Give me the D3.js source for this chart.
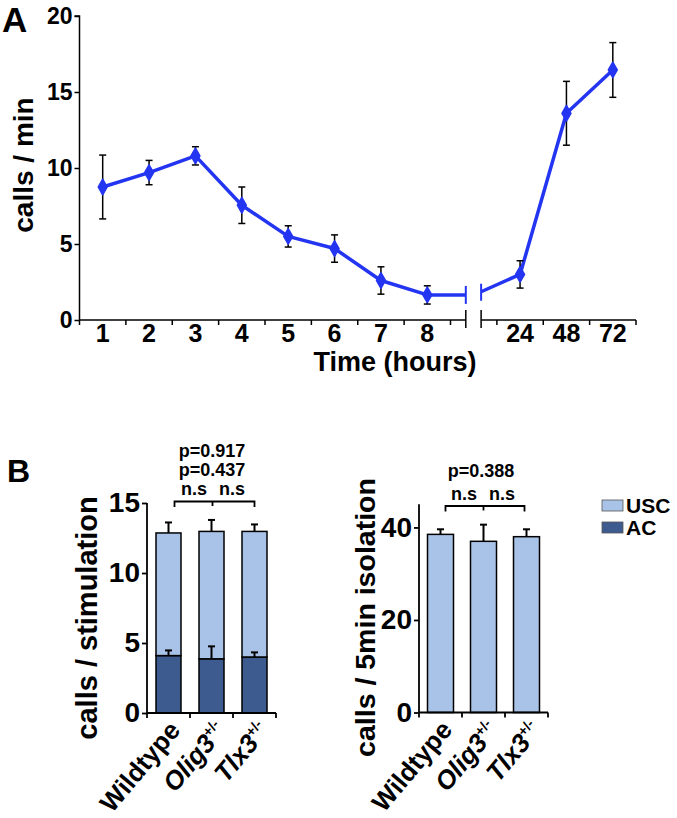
<!DOCTYPE html>
<html>
<head>
<meta charset="utf-8">
<script src="https://cdn.jsdelivr.net/npm/d3@7/dist/d3.min.js"></script>
<style>
  html, body { margin: 0; padding: 0; background: #fff; }
  svg text { font-family: Arial, "Liberation Sans", Helvetica, sans-serif; font-weight: bold; fill: #000; }
</style>
</head>
<body>
<svg id="chart" width="677" height="818"></svg>
<script>
// ---------------- Data: panel A ----------------
const timeLabels = ["1", "2", "3", "4", "5", "6", "7", "8", "24", "48", "72"];
const callsPerMin = [8.75, 9.7, 10.8, 7.55, 5.5, 4.7, 2.6, 1.65, 3.0, 13.6, 16.45];
const callsPerMinErr = [2.1, 0.8, 0.6, 1.2, 0.7, 0.9, 0.9, 0.6, 0.9, 2.1, 1.8];
const breakStartValue = 1.65;   // line value at left side of the axis break
const breakEndValue = 1.86;     // line value at right side of the axis break
const yTicksA = [0, 5, 10, 15, 20];

// ---------------- Data: panel B ----------------
const genotypes = ["Wildtype", "Olig3", "Tlx3"];
const genotypeSup = ["", "+/-", "+/-"];
const acValues = [4.1, 3.87, 4.0];
const acErr = [0.37, 0.89, 0.33];
const uscValues = [8.76, 9.1, 8.97];
const totalErr = [0.75, 0.82, 0.5];
const isolationValues = [38.5, 37.0, 38.0];
const isolationErr = [1.1, 3.6, 1.6];
const yTicksB1 = [0, 5, 10, 15];
const yTicksB2 = [0, 20, 40];
const pTextsB1 = ["p=0.917", "p=0.437"];
const pTextsB2 = ["p=0.388"];
const legendLabels = ["USC", "AC"];

const colLine = "#2435f2";
const colLight = "#a9c3e8";
const colDark = "#3d5b8f";

const svg = d3.select("#chart");

// =============== PANEL A =================
// slot index: 1..8 for hours, gap at 9, then 10..12
const slot = i => (i < 8 ? i + 1 : i + 2);
const xA = d3.scaleLinear().domain([0.5, 12.5]).range([79.5, 636]);
const yA = d3.scaleLinear().domain([0, 20]).range([320, 16]);
const gA = svg.append("g");

svg.append("text").attr("x", 2).attr("y", 32).attr("font-size", 35).text("A");

// y axis
const yAxisA = d3.axisLeft(yA).tickValues(yTicksA).tickSize(5).tickPadding(2).tickFormat(d3.format("d"));
const gyA = gA.append("g").attr("transform", `translate(${xA(0.5)},0)`).call(yAxisA);
gyA.selectAll("text").attr("font-size", 23).style("font-weight", "bold").attr("fill", "#000");
gyA.selectAll("line, path").attr("stroke", "#000").attr("stroke-width", 1.5);
gyA.select(".domain").attr("d", `M-5,${yA(20)}H0V${yA(0)}`);

// x axis (broken)
const breakL = 8.83, breakR = 9.16;
const axisY = yA(0);
gA.append("line").attr("x1", xA(0.5)).attr("x2", xA(breakL)).attr("y1", axisY).attr("y2", axisY)
  .attr("stroke", "#000").attr("stroke-width", 1.5);
gA.append("line").attr("x1", xA(breakR)).attr("x2", xA(12.5)).attr("y1", axisY).attr("y2", axisY)
  .attr("stroke", "#000").attr("stroke-width", 1.5);
const minorTicks = [0.5, 1.5, 2.5, 3.5, 4.5, 5.5, 6.5, 7.5, 8.5, 9.5, 10.5, 11.5, 12.5];
gA.selectAll(".mt").data(minorTicks).enter().append("line")
  .attr("x1", d => xA(d)).attr("x2", d => xA(d)).attr("y1", axisY).attr("y2", axisY + 5)
  .attr("stroke", "#000").attr("stroke-width", 1.5);
[breakL, breakR].forEach(b => {
  gA.append("line").attr("x1", xA(b)).attr("x2", xA(b)).attr("y1", axisY - 10).attr("y2", axisY + 8)
    .attr("stroke", "#000").attr("stroke-width", 1.5);
});
gA.selectAll(".xl").data(timeLabels).enter().append("text")
  .attr("x", (d, i) => xA(slot(i))).attr("y", 342).attr("text-anchor", "middle")
  .attr("font-size", 25).text(d => d);

// axis titles
svg.append("text").attr("transform", "translate(33,165) rotate(-90)").attr("text-anchor", "middle")
  .attr("font-size", 28).text("calls / min");
svg.append("text").attr("x", 395).attr("y", 371).attr("text-anchor", "middle")
  .attr("font-size", 27).text("Time (hours)");

// line segments
const lineGen = d3.line().x(d => xA(d[0])).y(d => yA(d[1]));
const leftPts = callsPerMin.slice(0, 8).map((v, i) => [slot(i), v]).concat([[breakL, breakStartValue]]);
const rightPts = [[breakR, breakEndValue]].concat(callsPerMin.slice(8).map((v, i) => [slot(i + 8), v]));
[leftPts, rightPts].forEach(p => {
  gA.append("path").attr("d", lineGen(p)).attr("fill", "none").attr("stroke", colLine)
    .attr("stroke-width", 3.5).attr("stroke-linejoin", "round");
});
// blue break ticks
gA.append("line").attr("x1", xA(breakL)).attr("x2", xA(breakL))
  .attr("y1", yA(breakStartValue) - 9).attr("y2", yA(breakStartValue) + 9)
  .attr("stroke", colLine).attr("stroke-width", 2);
gA.append("line").attr("x1", xA(breakR)).attr("x2", xA(breakR))
  .attr("y1", yA(breakEndValue) - 8).attr("y2", yA(breakEndValue) + 9)
  .attr("stroke", colLine).attr("stroke-width", 2);

// error bars
const eb = gA.selectAll(".eb").data(callsPerMin).enter().append("g");
eb.append("line").attr("x1", (d, i) => xA(slot(i))).attr("x2", (d, i) => xA(slot(i)))
  .attr("y1", (d, i) => yA(d + callsPerMinErr[i])).attr("y2", (d, i) => yA(d - callsPerMinErr[i]))
  .attr("stroke", "#000").attr("stroke-width", 1.5);
[1, -1].forEach(s => {
  eb.append("line").attr("x1", (d, i) => xA(slot(i)) - 3.5).attr("x2", (d, i) => xA(slot(i)) + 3.5)
    .attr("y1", (d, i) => yA(d + s * callsPerMinErr[i])).attr("y2", (d, i) => yA(d + s * callsPerMinErr[i]))
    .attr("stroke", "#000").attr("stroke-width", 1.5);
});
// markers
gA.selectAll(".pt").data(callsPerMin).enter().append("path")
  .attr("transform", (d, i) => `translate(${xA(slot(i))},${yA(d)})`)
  .attr("d", d3.symbol().type(d3.symbolDiamond).size(70))
  .attr("fill", colLine).attr("stroke", colLine).attr("stroke-width", 1.5).attr("stroke-linejoin", "round");

// =============== PANEL B =================
svg.append("text").attr("x", 7).attr("y", 482).attr("font-size", 32).text("B");

function bracket(g, x1, x2, xc, y, drop) {
  g.append("path").attr("d", `M${x1},${y + drop}V${y}H${x2}V${y + drop}M${xc},${y}V${y + drop - 1}`)
    .attr("fill", "none").attr("stroke", "#000").attr("stroke-width", 1.8);
}

function catLabels(g, x, yBase) {
  const t = g.selectAll(".cl").data(genotypes).enter().append("text")
    .attr("transform", (d, i) => `translate(${x(d) + x.bandwidth() / 2 + (i === 0 ? 13 : 16)},${yBase + 18}) rotate(-50)`)
    .attr("text-anchor", "end").attr("font-size", 26);
  t.append("tspan").text(d => d).style("font-style", (d, i) => i > 0 ? "italic" : "normal");
  t.append("tspan").attr("font-size", 14).attr("dy", (d, i) => genotypeSup[i] ? -10 : 0)
    .text((d, i) => genotypeSup[i]);
}

function styleAxis(gax, fs) {
  gax.selectAll("text").attr("font-size", fs).attr("fill", "#000");
  gax.selectAll("line, path").attr("stroke", "#000").attr("stroke-width", 1.8);
}

// ----- B left: stacked -----
const xB1 = d3.scaleBand().domain(genotypes).range([147, 276]).paddingInner(0).paddingOuter(0);
const yB1 = d3.scaleLinear().domain([0, 15]).range([713, 503]);
const gB1 = svg.append("g");
const bw1 = 25;
const off1 = (xB1.bandwidth() - bw1) / 2;

const stackData = genotypes.map((g, i) => ({ g, AC: acValues[i], USC: uscValues[i] }));
const stacked = d3.stack().keys(["AC", "USC"])(stackData);
const fills = { AC: colDark, USC: colLight };
stacked.forEach(layer => {
  gB1.selectAll(".b" + layer.key).data(layer).enter().append("rect")
    .attr("x", d => xB1(d.data.g) + off1).attr("width", bw1)
    .attr("y", d => yB1(d[1])).attr("height", d => yB1(d[0]) - yB1(d[1]))
    .attr("fill", fills[layer.key]).attr("stroke", "#000").attr("stroke-width", 1.5);
});
// error bars (upward)
function upErr(g, x, y, bw, tops, errs) {
  tops.forEach((v, i) => {
    const cx = x(genotypes[i]) + x.bandwidth() / 2;
    g.append("line").attr("x1", cx).attr("x2", cx).attr("y1", y(v)).attr("y2", y(v + errs[i]))
      .attr("stroke", "#000").attr("stroke-width", 2);
    g.append("line").attr("x1", cx - 3.5).attr("x2", cx + 3.5).attr("y1", y(v + errs[i])).attr("y2", y(v + errs[i]))
      .attr("stroke", "#000").attr("stroke-width", 2);
  });
}
upErr(gB1, xB1, yB1, bw1, acValues, acErr);
upErr(gB1, xB1, yB1, bw1, acValues.map((a, i) => a + uscValues[i]), totalErr);

const gy1 = gB1.append("g").attr("transform", "translate(147,0)")
  .call(d3.axisLeft(yB1).tickValues(yTicksB1).tickSize(5).tickPadding(2).tickFormat(d3.format("d")));
styleAxis(gy1, 28);
gy1.select(".domain").attr("d", `M0,${yB1(15)}V${yB1(0)}`);
const gx1 = gB1.append("g").attr("transform", `translate(0,${yB1(0)})`);
gx1.append("line").attr("x1", 147).attr("x2", 276).attr("stroke", "#000").attr("stroke-width", 1.8);
const bounds1 = genotypes.map(g => xB1(g)).concat([xB1(genotypes[2]) + xB1.bandwidth()]);
gx1.selectAll(".tk").data(bounds1).enter().append("line").attr("x1", d => d).attr("x2", d => d)
  .attr("y1", 0).attr("y2", 5).attr("stroke", "#000").attr("stroke-width", 1.8);
catLabels(gB1, xB1, yB1(0));

svg.append("text").attr("transform", "translate(97,618) rotate(-90)").attr("text-anchor", "middle")
  .attr("font-size", 29).text("calls / stimulation");

const c1 = genotypes.map(g => xB1(g) + xB1.bandwidth() / 2);
bracket(gB1, c1[0] + 6, c1[2], c1[1] + 1, 501.5, 5.5);
gB1.selectAll(".pt").data(pTextsB1).enter().append("text")
  .attr("x", (c1[0] + c1[2]) / 2 + 0.5).attr("y", (d, i) => 456.5 + i * 19).attr("text-anchor", "middle")
  .attr("font-size", 18).text(d => d);
[ (c1[0] + c1[1]) / 2 + 4, (c1[1] + c1[2]) / 2 - 1 ].forEach(x => {
  gB1.append("text").attr("x", x).attr("y", 494.5).attr("text-anchor", "middle").attr("font-size", 18).text("n.s");
});

// ----- B right: isolation -----
const xB2 = d3.scaleBand().domain(genotypes).range([419, 548]).paddingInner(0).paddingOuter(0);
const yB2 = d3.scaleLinear().domain([0, 45]).range([712.5, 504.3]);
const gB2 = svg.append("g");
const bw2 = 26;
const off2 = (xB2.bandwidth() - bw2) / 2;
gB2.selectAll(".bi").data(isolationValues).enter().append("rect")
  .attr("x", (d, i) => xB2(genotypes[i]) + off2).attr("width", bw2)
  .attr("y", d => yB2(d)).attr("height", d => yB2(0) - yB2(d))
  .attr("fill", colLight).attr("stroke", "#000").attr("stroke-width", 1.5);
upErr(gB2, xB2, yB2, bw2, isolationValues, isolationErr);

const gy2 = gB2.append("g").attr("transform", "translate(419,0)")
  .call(d3.axisLeft(yB2).tickValues(yTicksB2).tickSize(5).tickPadding(2).tickFormat(d3.format("d")));
styleAxis(gy2, 28);
gy2.select(".domain").attr("d", `M0,${yB2(45)}V${yB2(0)}`);
const gx2 = gB2.append("g").attr("transform", `translate(0,${yB2(0)})`);
gx2.append("line").attr("x1", 419).attr("x2", 548).attr("stroke", "#000").attr("stroke-width", 1.8);
const bounds2 = genotypes.map(g => xB2(g)).concat([xB2(genotypes[2]) + xB2.bandwidth()]);
gx2.selectAll(".tk").data(bounds2).enter().append("line").attr("x1", d => d).attr("x2", d => d)
  .attr("y1", 0).attr("y2", 5).attr("stroke", "#000").attr("stroke-width", 1.8);
catLabels(gB2, xB2, yB2(0));

svg.append("text").attr("transform", "translate(375,617.5) rotate(-90)").attr("text-anchor", "middle")
  .attr("font-size", 28.5).text("calls / 5min isolation");

const c2 = genotypes.map(g => xB2(g) + xB2.bandwidth() / 2);
bracket(gB2, c2[0] + 5, c2[2] - 2, c2[1], 506, 5.5);
gB2.selectAll(".pt").data(pTextsB2).enter().append("text")
  .attr("x", 481).attr("y", 477).attr("text-anchor", "middle").attr("font-size", 18).text(d => d);
[ (c2[0] + c2[1]) / 2 + 2, (c2[1] + c2[2]) / 2 - 3 ].forEach(x => {
  gB2.append("text").attr("x", x).attr("y", 499.5).attr("text-anchor", "middle").attr("font-size", 18).text("n.s");
});

// legend
const lg = svg.append("g");
lg.selectAll("rect").data(legendLabels).enter().append("rect")
  .attr("x", 602).attr("y", (d, i) => 500 + i * 22).attr("width", 21).attr("height", 11)
  .attr("fill", d => d === "USC" ? colLight : colDark).attr("stroke", "#555").attr("stroke-width", 0.8);
lg.selectAll("text").data(legendLabels).enter().append("text")
  .attr("x", 626).attr("y", (d, i) => 513 + i * 22).attr("font-size", 21).text(d => d);
</script>
</body>
</html>
